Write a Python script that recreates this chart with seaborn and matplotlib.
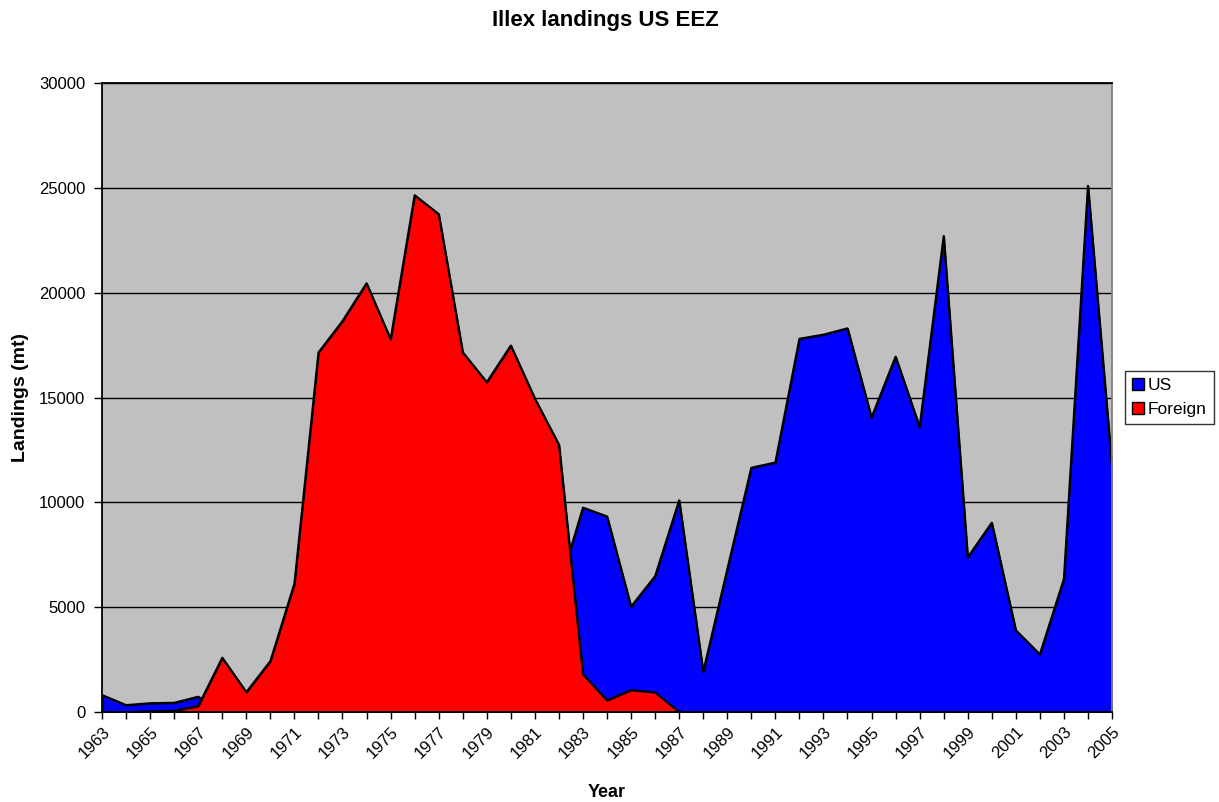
import matplotlib
matplotlib.use("Agg")
import matplotlib.pyplot as plt
from matplotlib.patches import Patch
import seaborn as sns
import pandas as pd

# Datos (toneladas)
anios = list(range(1963, 2006))
us = [810, 330, 420, 440, 730,
      0, 0, 0, 0, 0, 0, 0, 0, 0, 0, 0, 0, 0, 0,
      5900, 9750, 9330, 5030, 6480, 10100, 1920, 6800, 11650, 11900,
      17800, 18000, 18300, 14050, 16950, 13600, 22700, 7380, 9030,
      3900, 2750, 6350, 25100, 11700]
extranjero = [0, 0, 30, 60, 290, 2590, 950, 2430, 6130, 17150, 18650,
              20450, 17780, 24650, 23750, 17160, 15730, 17480, 14950,
              12750, 1800, 560, 1050, 940, 0,
              0, 0, 0, 0, 0, 0, 0, 0, 0, 0, 0, 0, 0, 0, 0, 0, 0, 0]

df = pd.DataFrame({"Year": anios, "US": us, "Foreign": extranjero})

sns.set_style("white")
plt.rcParams["font.family"] = ["Liberation Sans", "DejaVu Sans"]
plt.rcParams["text.color"] = "black"
plt.rcParams["axes.labelcolor"] = "black"

fig = plt.figure(figsize=(12.19, 8.02), dpi=100)
ax = fig.add_axes([0.0837, 0.1122, 0.9122 - 0.0837, 0.8965 - 0.1122])
ax.set_facecolor("#C0C0C0")

# Areas superpuestas (US detras, Foreign delante)
ax.fill_between(df["Year"], df["US"], color="#0000FF", zorder=2,
                edgecolor="black", linewidth=1.3)
sns.lineplot(data=df, x="Year", y="US", color="black", linewidth=1.5,
             ax=ax, zorder=3)
ax.fill_between(df["Year"], df["Foreign"], color="#FF0000", zorder=4,
                edgecolor="black", linewidth=1.3)
sns.lineplot(data=df, x="Year", y="Foreign", color="black", linewidth=1.5,
             ax=ax, zorder=5)

ax.set_xlim(1963, 2005)
ax.set_ylim(0, 30000)
ax.set_yticks(range(0, 30001, 5000))
ax.yaxis.grid(True, color="black", linewidth=1.0)
ax.set_axisbelow(True)

# Marcas en todos los anios, etiqueta cada dos
ax.set_xticks(anios)
ax.set_xticklabels([str(a) if (a - 1963) % 2 == 0 else "" for a in anios],
                   rotation=45, ha="right", rotation_mode="anchor")
ax.tick_params(axis="x", direction="out", length=5, width=1, colors="black",
               labelsize=12, pad=4, bottom=True)
ax.tick_params(axis="y", direction="out", length=6, width=1, colors="black",
               labelsize=12, pad=6, left=True)

for lado in ["left", "bottom", "top"]:
    ax.spines[lado].set_color("black")
    ax.spines[lado].set_linewidth(1.3)
    ax.spines[lado].set_zorder(6)
ax.spines["right"].set_color("#808080")
ax.spines["right"].set_linewidth(1.3)
ax.spines["right"].set_zorder(6)

ax.set_xlabel("Year", fontsize=13, fontweight="bold", labelpad=16,
              color="black")
ax.set_ylabel("Landings (mt)", fontsize=14, fontweight="bold", labelpad=7,
              color="black")
fig.suptitle("Illex landings US EEZ", fontsize=16, fontweight="bold",
             x=0.497, y=0.988, color="black")

manejadores = [Patch(facecolor="#0000FF", edgecolor="black", label="US"),
               Patch(facecolor="#FF0000", edgecolor="black", label="Foreign")]
leyenda = fig.legend(handles=manejadores, loc="center left",
                     bbox_to_anchor=(0.923, 0.504), fontsize=12.5,
                     frameon=True, fancybox=False, edgecolor="black",
                     handlelength=0.7, handleheight=0.7, handletextpad=0.2,
                     borderpad=0.4, labelspacing=0.5, borderaxespad=0)
leyenda.get_frame().set_linewidth(1.0)

fig.savefig("out.png", dpi=100)
